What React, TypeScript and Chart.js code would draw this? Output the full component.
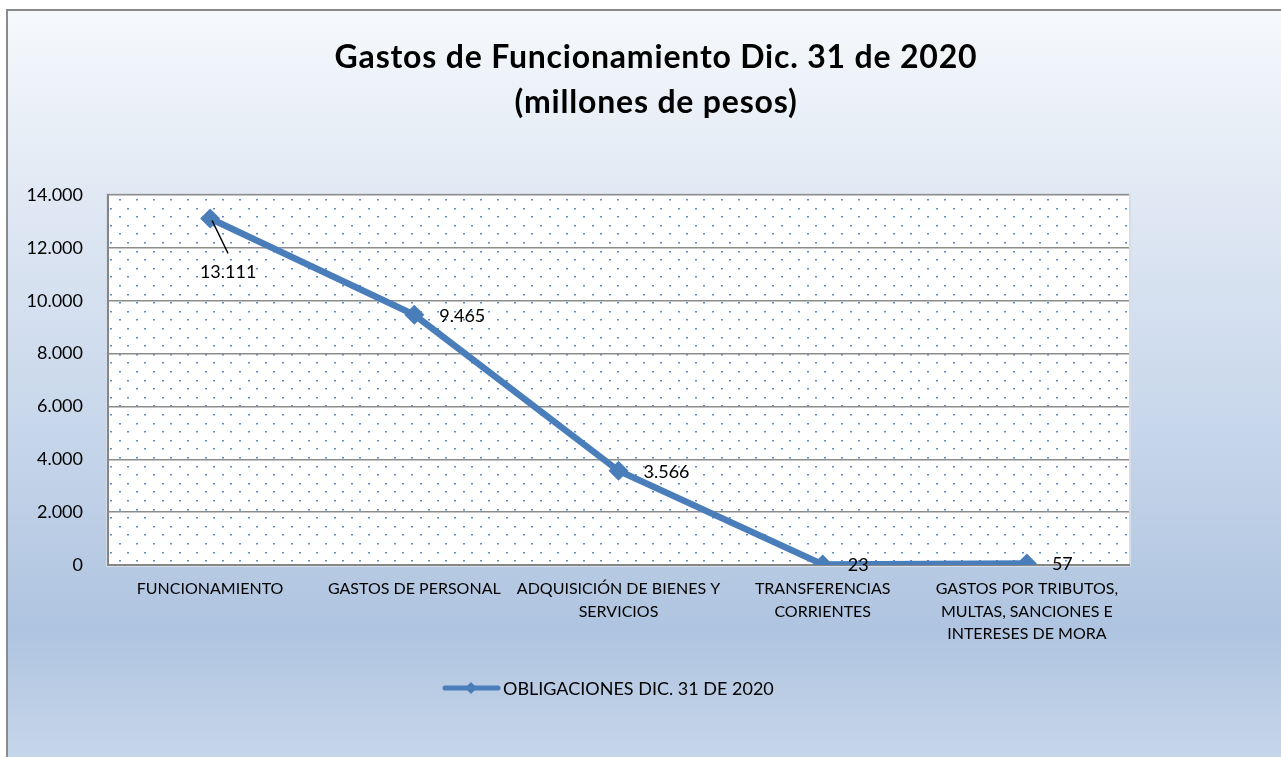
import React, { useEffect, useRef } from "react";
import { Chart, registerables } from "chart.js";

Chart.register(...registerables);

const TITLE_LINES = ["Gastos de Funcionamiento Dic. 31 de 2020", "(millones de pesos)"];
const CATEGORIES: string[][] = [
  ["FUNCIONAMIENTO"],
  ["GASTOS DE PERSONAL"],
  ["ADQUISICIÓN DE BIENES Y", "SERVICIOS"],
  ["TRANSFERENCIAS", "CORRIENTES"],
  ["GASTOS POR TRIBUTOS,", "MULTAS, SANCIONES E", "INTERESES DE MORA"],
];
const SERIES_NAME = "OBLIGACIONES DIC. 31 DE 2020";
const VALUES = [13111, 9465, 3566, 23, 57];
const Y_MIN = 0;
const Y_MAX = 14000;
const Y_STEP = 2000;

const FONT = "Lato, 'Open Sans', sans-serif";
const BLUE = "#4a7ebb";

function fmt(v: number): string {
  const s = Math.round(v).toString();
  return s.replace(/\B(?=(\d{3})+(?!\d))/g, ".");
}

const bgPlugin = {
  id: "bgPlugin",
  beforeDraw(chart: any) {
    const { ctx, width, height, chartArea } = chart;
    ctx.save();
    ctx.fillStyle = "#ffffff";
    ctx.fillRect(0, 0, width, height);
    const g = ctx.createLinearGradient(0, 10, 0, height);
    g.addColorStop(0, "#f6f9fc");
    g.addColorStop(0.24, "#e1e9f4");
    g.addColorStop(0.55, "#c8d7eb");
    g.addColorStop(0.83, "#afc4e0");
    g.addColorStop(1, "#c6d6ea");
    ctx.fillStyle = g;
    ctx.fillRect(8, 10, width - 8, height - 10);
    ctx.strokeStyle = "#8a8a8a";
    ctx.lineWidth = 2;
    ctx.beginPath();
    ctx.moveTo(7, height);
    ctx.lineTo(7, 10);
    ctx.lineTo(width, 10);
    ctx.stroke();

    // plot area
    const { left, top, right, bottom } = chartArea;
    ctx.fillStyle = "#ffffff";
    ctx.fillRect(left, top, right - left, bottom - top);
    ctx.strokeStyle = "#d6dde8";
    ctx.lineWidth = 2;
    ctx.strokeRect(left - 1, top - 1, right - left + 2, bottom - top + 2);
    // dotted pattern
    ctx.fillStyle = "#5b8bc9";
    const dy = 8.6;
    const dx = 17.2;
    let row = 0;
    for (let y = top + 4; y < bottom - 1; y += dy, row++) {
      const off = row % 2 === 0 ? dx / 2 : 0;
      for (let x = left + 2 + off; x < right - 1; x += dx) {
        ctx.fillRect(Math.round(x), Math.round(y), 2, 1.5);
      }
    }

    // title
    ctx.fillStyle = "#000000";
    ctx.font = `bold 32px ${FONT}`;
    (ctx as any).letterSpacing = "0.8px";
    ctx.textAlign = "center";
    ctx.textBaseline = "middle";
    ctx.fillText(TITLE_LINES[0], 656, 58);
    ctx.fillText(TITLE_LINES[1], 656, 103);
    (ctx as any).letterSpacing = "0px";
    ctx.restore();
  },
  afterDatasetsDraw(chart: any) {
    const { ctx } = chart;
    const meta = chart.getDatasetMeta(0);
    ctx.save();
    ctx.font = `18px ${FONT}`;
    ctx.fillStyle = "#000000";
    ctx.textBaseline = "middle";
    meta.data.forEach((pt: any, i: number) => {
      const label = fmt(VALUES[i]);
      if (i === 0) {
        ctx.strokeStyle = "#000000";
        ctx.lineWidth = 1.5;
        ctx.beginPath();
        ctx.moveTo(pt.x + 2, pt.y + 2);
        ctx.lineTo(pt.x + 18, pt.y + 35);
        ctx.stroke();
        ctx.textAlign = "center";
        ctx.fillText(label, pt.x + 18, pt.y + 54);
      } else {
        ctx.textAlign = "left";
        ctx.fillText(label, pt.x + 25, pt.y + 1);
      }
    });

    // legend
    const ly = 688;
    ctx.strokeStyle = BLUE;
    ctx.lineWidth = 5;
    ctx.lineCap = "round";
    ctx.beginPath();
    ctx.moveTo(445, ly);
    ctx.lineTo(498, ly);
    ctx.stroke();
    ctx.fillStyle = BLUE;
    ctx.beginPath();
    ctx.moveTo(471, ly - 6);
    ctx.lineTo(477, ly);
    ctx.lineTo(471, ly + 6);
    ctx.lineTo(465, ly);
    ctx.closePath();
    ctx.fill();
    ctx.fillStyle = "#000000";
    ctx.textAlign = "left";
    ctx.font = `18px ${FONT}`;
    ctx.fillText(SERIES_NAME, 503, ly + 1);
    ctx.restore();
  },
};

export default function App() {
  const ref = useRef<HTMLCanvasElement | null>(null);
  useEffect(() => {
    if (!ref.current) return;
    const chart = new Chart(ref.current, {
      type: "line",
      data: {
        labels: CATEGORIES,
        datasets: [
          {
            label: SERIES_NAME,
            data: VALUES,
            borderColor: BLUE,
            backgroundColor: BLUE,
            borderWidth: 6.5,
            pointStyle: "rectRot",
            pointRadius: 10,
            pointBorderWidth: 0,
            pointBackgroundColor: BLUE,
            tension: 0,
          },
        ],
      },
      options: {
        responsive: false,
        animation: false,
        events: [],
        layout: { padding: { left: 8, right: 152, top: 195, bottom: 0 } },
        plugins: {
          legend: { display: false },
          title: { display: false },
          tooltip: { enabled: false },
        },
        scales: {
          x: {
            type: "category",
            offset: true,
            grid: { display: false, drawTicks: false },
            border: { display: true, color: "#868686", width: 2 },
            ticks: {
              color: "#000000",
              font: { family: FONT, size: 16, lineHeight: 1.4 },
              padding: 13,
              maxRotation: 0,
              autoSkip: false,
            },
            afterFit(scale: any) {
              scale.height = 192;
            },
          },
          y: {
            min: Y_MIN,
            max: Y_MAX,
            ticks: {
              stepSize: Y_STEP,
              color: "#000000",
              font: { family: FONT, size: 18 },
              padding: 25,
              callback: (v: any) => fmt(Number(v)),
            },
            grid: { color: "#8c8c8c", lineWidth: 1.5, drawTicks: false },
            border: { display: true, color: "#868686", width: 2 },
            afterFit(scale: any) {
              scale.width = 100;
            },
          },
        },
      },
      plugins: [bgPlugin],
    } as any);
    return () => chart.destroy();
  }, []);
  return (
    <div style={{ position: "absolute", left: 0, top: 0, width: 1281, height: 757 }}>
      <canvas ref={ref} width={1281} height={757} style={{ width: 1281, height: 757, display: "block" }} />
    </div>
  );
}
